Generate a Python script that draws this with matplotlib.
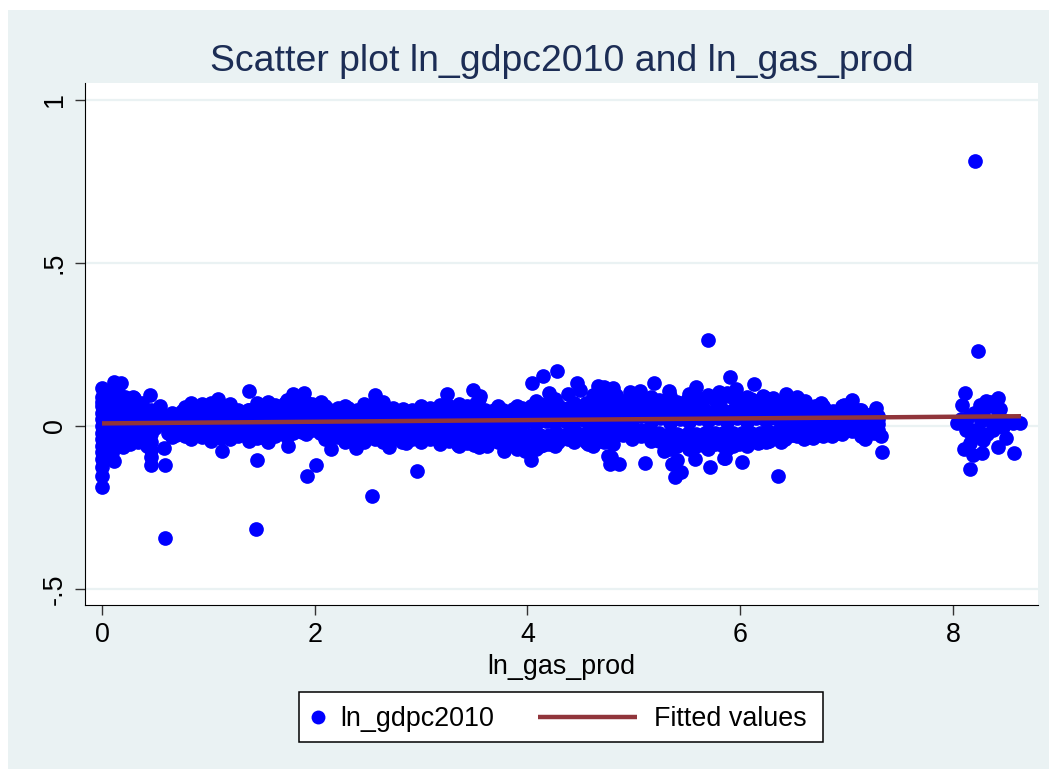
import numpy as np
import matplotlib
matplotlib.use("Agg")
import matplotlib.pyplot as plt
from matplotlib.lines import Line2D
from matplotlib.patches import Rectangle

plt.rcParams['font.family'] = ['Liberation Sans', 'DejaVu Sans']

# isolated points
out_x = [0.59, 1.45, 2.54, 1.93, 2.01, 1.46, 1.13, 1.745, 2.15, 2.39, 2.70, 0.59, 0.457, 0.585, 0.0, 0.0, 0.113, 0.2, 1.38, 0.45, 0.545, 0.113, 0.175, 0.0, 0.29, 2.57, 1.09, 1.90, 1.80, 2.06,
         2.96, 3.775, 4.035, 4.28, 4.15, 4.045, 4.47, 4.49, 4.38, 4.665, 4.72, 4.805, 4.83, 4.96, 5.06, 5.19, 5.33, 5.58, 5.80, 5.90, 3.24, 3.49, 3.55, 4.2, 2.855, 3.19, 3.35, 3.615, 3.5, 4.79,
         4.775, 4.86, 4.76, 5.105, 5.285, 5.355, 5.41, 5.44, 5.39, 5.575, 5.715, 5.85, 5.40, 4.57, 4.72, 4.15, 3.975, 4.27, 5.70, 5.96,
         6.13, 6.435, 6.53, 6.76, 7.05, 7.28, 6.31, 6.215, 6.105, 6.61, 6.98, 7.12, 7.32, 7.33, 7.17, 6.86, 6.685, 6.63, 6.50, 6.385, 6.36, 6.02, 5.855, 5.985, 6.06, 6.17, 6.26]
out_y = [-0.345, -0.316, -0.215, -0.152, -0.121, -0.103, -0.076, -0.06, -0.072, -0.067, -0.065, -0.119, -0.119, -0.067, -0.186, -0.152, -0.108, -0.065, 0.108, 0.095, 0.062, 0.134, 0.133, 0.117, 0.088, 0.095, 0.082, 0.102, 0.097, 0.074,
         -0.139, -0.078, -0.105, 0.169, 0.153, 0.133, 0.131, 0.11, 0.097, 0.123, 0.121, 0.116, 0.095, 0.103, 0.108, 0.132, 0.108, 0.121, 0.105, 0.151, 0.097, 0.11, 0.092, 0.10, -0.051, -0.049, -0.058, -0.06, -0.057, -0.094,
         -0.117, -0.118, -0.092, -0.113, -0.077, -0.117, -0.104, -0.141, -0.156, -0.10, -0.125, -0.097, -0.061, -0.056, -0.048, -0.058, -0.077, -0.041, 0.265, 0.114,
         0.129, 0.098, 0.09, 0.071, 0.08, 0.054, 0.087, 0.092, 0.083, 0.078, 0.064, 0.049, -0.031, -0.08, -0.04, -0.031, -0.038, -0.035, -0.028, -0.048, -0.153, -0.11, -0.098, -0.055, -0.051, -0.051, -0.046]

# the cluster at the left edge, near zero gas production
left_x = [0, 0, 0, 0, 0, 0, 0, 0, 0, 0, 0, 0,
          0.04, 0.04, 0.04, 0.04, 0.04, 0.04, 0.04, 0.04, 0.04, 0.04,
          0.09, 0.09, 0.09, 0.09, 0.09, 0.09, 0.09, 0.09,
          0.15, 0.15, 0.15, 0.15, 0.15, 0.15, 0.15,
          0.22, 0.22, 0.22, 0.22, 0.22, 0.22, 0.22,
          0.3, 0.3, 0.3, 0.3, 0.3, 0.3,
          0.38, 0.38, 0.38, 0.38, 0.38, 0.38,
          0.46, 0.46, 0.46, 0.46, 0.46, 0.46, 0.46,
          0.53, 0.53]
left_y = [-0.125, -0.1, -0.08, -0.06, -0.04, -0.02, 0.0, 0.02, 0.04, 0.06, 0.075, 0.09,
          -0.09, -0.07, -0.05, -0.03, -0.01, 0.01, 0.03, 0.05, 0.075, 0.095,
          -0.082, -0.06, -0.035, -0.01, 0.015, 0.04, 0.07, 0.11,
          -0.06, -0.04, -0.015, 0.01, 0.035, 0.065, 0.105,
          -0.045, -0.02, 0.005, 0.03, 0.055, 0.075, 0.09,
          -0.04, -0.015, 0.01, 0.035, 0.06, 0.085,
          -0.045, -0.02, 0.005, 0.03, 0.055, 0.07,
          -0.095, -0.075, -0.05, -0.025, 0.0, 0.03, 0.05,
          0.03, 0.015]
left2_x = [0.02, 0.02, 0.02, 0.02, 0.02, 0.02, 0.06, 0.06, 0.06, 0.06, 0.06, 0.06,
           0.12, 0.12, 0.12, 0.12, 0.12, 0.12, 0.18, 0.18, 0.18, 0.18, 0.18,
           0.26, 0.26, 0.26, 0.26, 0.26, 0.34, 0.34, 0.34, 0.34, 0.34,
           0.42, 0.42, 0.42, 0.42, 0.42, 0.5, 0.5, 0.5]
left2_y = [-0.07, -0.045, -0.02, 0.01, 0.04, 0.07, -0.065, -0.04, -0.015, 0.02, 0.05, 0.085,
           -0.05, -0.025, 0.0, 0.028, 0.055, 0.09, -0.05, -0.03, 0.0, 0.025, 0.05,
           -0.055, -0.03, -0.005, 0.02, 0.048, -0.048, -0.028, -0.003, 0.022, 0.045,
           -0.06, -0.03, -0.008, 0.018, 0.045, -0.005, 0.012, 0.035]

# columns through the main band: top edge, two inner rows, bottom edge
band_x = [0.62, 0.70, 0.78, 0.86, 0.94, 1.03, 1.12, 1.2, 1.28, 1.37,
          1.46, 1.54, 1.63, 1.72, 1.8, 1.88, 1.97, 2.05, 2.14, 2.22,
          2.31, 2.4, 2.48, 2.57, 2.65, 2.74, 2.83, 2.91, 3.0, 3.08,
          3.17, 3.26, 3.34, 3.43, 3.52, 3.6, 3.69, 3.77, 3.86, 3.95,
          4.03, 4.12, 4.2, 4.29, 4.38, 4.46, 4.55, 4.64, 4.72, 4.81,
          4.9, 4.98, 5.07, 5.15, 5.24, 5.33, 5.41, 5.5, 5.58, 5.67,
          5.76, 5.84, 5.93, 6.02, 6.1, 6.19, 6.27, 6.36, 6.45, 6.53,
          6.62, 6.7, 6.79, 6.88, 6.96, 7.05, 7.13, 7.22, 7.3]
band_top = [0.03, 0.035, 0.058, 0.062, 0.068, 0.06, 0.064, 0.058, 0.05, 0.048,
            0.07, 0.062, 0.065, 0.07, 0.072, 0.08, 0.066, 0.055, 0.05, 0.056,
            0.055, 0.05, 0.06, 0.07, 0.06, 0.055, 0.052, 0.048, 0.05, 0.054,
            0.052, 0.06, 0.058, 0.062, 0.07, 0.05, 0.048, 0.05, 0.052, 0.055,
            0.06, 0.068, 0.072, 0.065, 0.055, 0.06, 0.07, 0.08, 0.085, 0.08,
            0.078, 0.08, 0.085, 0.078, 0.08, 0.082, 0.075, 0.08, 0.09, 0.085,
            0.08, 0.088, 0.085, 0.08, 0.078, 0.08, 0.075, 0.07, 0.075, 0.07,
            0.065, 0.06, 0.055, 0.04, 0.05, 0.058, 0.045, 0.035, 0.03]
band_hi = [0.015, 0.02, 0.03, 0.035, 0.04, 0.035, 0.038, 0.03, 0.028, 0.025,
           0.04, 0.035, 0.035, 0.04, 0.045, 0.05, 0.04, 0.03, 0.028, 0.03,
           0.032, 0.03, 0.035, 0.04, 0.035, 0.03, 0.03, 0.025, 0.03, 0.03,
           0.03, 0.035, 0.032, 0.035, 0.04, 0.03, 0.03, 0.03, 0.03, 0.032,
           0.035, 0.04, 0.04, 0.038, 0.035, 0.035, 0.04, 0.045, 0.05, 0.045,
           0.045, 0.045, 0.05, 0.045, 0.045, 0.05, 0.045, 0.045, 0.05, 0.05,
           0.045, 0.05, 0.05, 0.045, 0.045, 0.045, 0.045, 0.04, 0.045, 0.04,
           0.04, 0.035, 0.035, 0.025, 0.03, 0.035, 0.03, 0.025, 0.02]
band_lo = [0.0, 0.0, -0.002, -0.005, -0.005, -0.008, -0.008, -0.01, -0.01, -0.01,
           -0.012, -0.01, -0.01, -0.008, -0.005, -0.005, -0.002, -0.005, -0.008, -0.01,
           -0.012, -0.012, -0.012, -0.015, -0.015, -0.015, -0.015, -0.015, -0.015, -0.018,
           -0.018, -0.02, -0.02, -0.02, -0.022, -0.02, -0.015, -0.015, -0.02, -0.025,
           -0.028, -0.028, -0.028, -0.025, -0.02, -0.018, -0.02, -0.02, -0.015, -0.012,
           -0.01, -0.01, -0.012, -0.015, -0.02, -0.025, -0.025, -0.025, -0.025, -0.02,
           -0.02, -0.02, -0.02, -0.02, -0.02, -0.02, -0.018, -0.015, -0.012, -0.01,
           -0.01, -0.01, -0.01, -0.008, -0.005, -0.002, 0.0, 0.002, 0.005]
band_bot = [-0.02, -0.028, -0.03, -0.032, -0.035, -0.035, -0.036, -0.033, -0.03, -0.035,
            -0.037, -0.04, -0.03, -0.025, -0.02, -0.018, -0.012, -0.02, -0.03, -0.034,
            -0.037, -0.04, -0.038, -0.04, -0.042, -0.04, -0.038, -0.04, -0.04, -0.04,
            -0.042, -0.045, -0.05, -0.052, -0.054, -0.05, -0.04, -0.04, -0.05, -0.06,
            -0.062, -0.06, -0.055, -0.05, -0.04, -0.038, -0.05, -0.05, -0.04, -0.032,
            -0.028, -0.022, -0.03, -0.035, -0.045, -0.055, -0.06, -0.055, -0.06, -0.06,
            -0.055, -0.06, -0.06, -0.05, -0.05, -0.05, -0.045, -0.04, -0.03, -0.03,
            -0.03, -0.03, -0.025, -0.025, -0.02, -0.015, -0.02, -0.018, -0.012]

# staggered columns between the ones above, they roughen the band edges
band2_x = [0.66, 0.84, 1.02, 1.2, 1.38, 1.56, 1.74, 1.92, 2.1, 2.28,
           2.46, 2.64, 2.82, 3.0, 3.18, 3.36, 3.54, 3.72, 3.9, 4.08,
           4.26, 4.44, 4.62, 4.8, 4.98, 5.16, 5.34, 5.52, 5.7, 5.88,
           6.06, 6.24, 6.42, 6.6, 6.78, 6.96, 7.14, 7.26]
band2_top = [0.04, 0.07, 0.072, 0.066, 0.05, 0.074, 0.08, 0.075, 0.06, 0.062,
             0.066, 0.075, 0.05, 0.06, 0.065, 0.068, 0.082, 0.06, 0.062, 0.078,
             0.082, 0.07, 0.095, 0.09, 0.092, 0.09, 0.092, 0.098, 0.095, 0.1,
             0.088, 0.085, 0.08, 0.075, 0.06, 0.06, 0.05, 0.04]
band2_mid = [0.012, 0.015, 0.01, 0.012, 0.008, 0.015, 0.012, 0.018, 0.01, 0.008,
             0.01, 0.012, 0.008, 0.006, 0.01, 0.008, 0.006, 0.01, 0.008, 0.005,
             0.008, 0.012, 0.01, 0.015, 0.016, 0.012, 0.01, 0.012, 0.014, 0.012,
             0.012, 0.014, 0.016, 0.015, 0.015, 0.018, 0.016, 0.015]
band2_dn = [-0.015, -0.02, -0.022, -0.022, -0.025, -0.028, -0.018, -0.01, -0.022, -0.028,
            -0.03, -0.03, -0.03, -0.03, -0.032, -0.038, -0.04, -0.03, -0.04, -0.045,
            -0.04, -0.032, -0.038, -0.03, -0.02, -0.028, -0.045, -0.045, -0.045, -0.045,
            -0.038, -0.03, -0.025, -0.02, -0.018, -0.012, -0.012, -0.005]
band2_bot = [-0.035, -0.04, -0.045, -0.04, -0.045, -0.05, -0.035, -0.025, -0.04, -0.05,
             -0.05, -0.05, -0.05, -0.05, -0.055, -0.062, -0.065, -0.05, -0.07, -0.072,
             -0.06, -0.05, -0.06, -0.055, -0.04, -0.045, -0.07, -0.07, -0.072, -0.07,
             -0.06, -0.05, -0.04, -0.04, -0.03, -0.025, -0.03, -0.02]

# third set of columns, fills the small holes inside the band
band3_x = [0.75, 0.93, 1.11, 1.29, 1.47, 1.65, 1.83, 2.01, 2.19, 2.37,
           2.55, 2.73, 2.91, 3.09, 3.27, 3.45, 3.63, 3.81, 3.99, 4.17,
           4.35, 4.53, 4.71, 4.89, 5.07, 5.25, 5.43, 5.61, 5.79, 5.97,
           6.15, 6.33, 6.51, 6.69, 6.87, 7.05, 7.2]
band3_up = [0.045, 0.05, 0.05, 0.04, 0.05, 0.05, 0.055, 0.045, 0.04, 0.042,
            0.048, 0.04, 0.04, 0.042, 0.045, 0.052, 0.04, 0.04, 0.045, 0.055,
            0.05, 0.055, 0.065, 0.065, 0.068, 0.065, 0.062, 0.068, 0.07, 0.068,
            0.065, 0.055, 0.055, 0.05, 0.045, 0.045, 0.035]
band3_low = [0.02, 0.024, 0.018, 0.014, 0.022, 0.02, 0.03, 0.02, 0.016, 0.014,
             0.016, 0.014, 0.012, 0.012, 0.014, 0.016, 0.012, 0.012, 0.012, 0.014,
             0.016, 0.018, 0.022, 0.028, 0.03, 0.025, 0.022, 0.024, 0.026, 0.025,
             0.026, 0.026, 0.026, 0.024, 0.02, 0.02, 0.018]
band3_neg = [-0.012, -0.016, -0.02, -0.02, -0.02, -0.016, -0.008, -0.01, -0.018, -0.024,
             -0.025, -0.025, -0.026, -0.028, -0.03, -0.034, -0.026, -0.026, -0.036, -0.04,
             -0.034, -0.032, -0.026, -0.02, -0.02, -0.032, -0.04, -0.04, -0.036, -0.036,
             -0.032, -0.026, -0.02, -0.018, -0.015, -0.01, -0.006]

# the separate group near 8
right_x = [8.205, 8.24, 8.11, 8.09, 8.42, 8.31, 8.25, 8.36, 8.44, 8.04, 8.63, 8.565, 8.16, 8.10, 8.19, 8.27, 8.165, 8.285, 8.42, 8.50, 8.57, 8.375, 8.47, 8.125, 8.22,
           8.15, 8.2, 8.28, 8.35, 8.42, 8.5, 8.12, 8.3, 8.38, 8.25, 8.32, 8.18, 8.26, 8.44, 8.08]
right_y = [0.812, 0.231, 0.102, 0.065, 0.085, 0.078, 0.064, 0.075, 0.051, 0.008, 0.008, 0.008, -0.132, -0.072, -0.089, -0.082, -0.053, -0.043, -0.065, -0.036, -0.082, -0.012, -0.002, -0.012, -0.012,
           0.03, 0.04, 0.05, 0.06, 0.03, 0.015, 0.01, 0.02, 0.01, -0.02, -0.025, -0.03, 0.015, 0.015, 0.02]

# fitted line end points
fit_x = [0.0, 8.64]
fit_y = [0.008, 0.030]

scatter_x = np.concatenate([out_x, left_x, left2_x, band_x, band_x, band_x, band_x, band2_x, band2_x, band2_x, band2_x, band3_x, band3_x, band3_x, right_x])
scatter_y = np.concatenate([out_y, left_y, left2_y, band_top, band_hi, band_lo, band_bot, band2_top, band2_mid, band2_dn, band2_bot, band3_up, band3_low, band3_neg, right_y])

bg = "#eaf2f3"
blue = "#0000ff"
fit_col = "#90353b"
W, H = 1049, 769

fig = plt.figure(figsize=(W / 100, H / 100), dpi=100, facecolor="white")
fig.add_artist(Rectangle((8 / W, 0), 1041 / W, 759 / H, transform=fig.transFigure, facecolor=bg, edgecolor="none", zorder=-1))

ax = fig.add_axes([85 / W, 1 - 605 / H, (1038 - 85) / W, (605 - 83) / H])
ax.set_xlim(-0.16, 8.80)
ax.set_ylim(-0.549, 1.052)
ax.grid(axis="y", color=bg, linewidth=1.6)
ax.set_axisbelow(True)
ax.spines["top"].set_visible(False)
ax.spines["right"].set_visible(False)
ax.scatter(scatter_x, scatter_y, s=112, color=blue, linewidths=0, zorder=3)
ax.plot(fit_x, fit_y, color=fit_col, linewidth=3.2, zorder=4, solid_capstyle="butt")

ax.set_xticks([0, 2, 4, 6, 8])
ax.set_xticklabels(["0", "2", "4", "6", "8"])
ax.set_yticks([-0.5, 0, 0.5, 1])
ax.set_yticklabels(["-.5", "0", ".5", "1"], rotation=90, va="center")
ax.tick_params(length=7.5, width=1, labelsize=19.4, pad=5, color="#333333")
ax.set_xlabel("ln_gas_prod", fontsize=19.4, labelpad=4)
ax.set_title("Scatter plot ln_gdpc2010 and ln_gas_prod", fontsize=26.9, color="#1c2d55", pad=8.5)

# legend box is laid out by hand: Stata gives the marker a narrower key than the line
fig.add_artist(Rectangle((299 / W, 1 - 742 / H), 524 / W, 50 / H, transform=fig.transFigure, facecolor="white", edgecolor="black", linewidth=1.1))
fig.add_artist(Line2D([318 / W], [1 - 717 / H], marker="o", markersize=10, color=blue, markeredgewidth=0, linestyle="none"))
fig.add_artist(Line2D([538 / W, 637 / W], [1 - 717 / H, 1 - 717 / H], color=fit_col, linewidth=3.2, solid_capstyle="butt"))
fig.text(340 / W, 1 - 719 / H, "ln_gdpc2010", fontsize=19.4, va="center", ha="left")
fig.text(654 / W, 1 - 719 / H, "Fitted values", fontsize=19.4, va="center", ha="left")

fig.savefig("out.png", dpi=100, facecolor=fig.get_facecolor())
